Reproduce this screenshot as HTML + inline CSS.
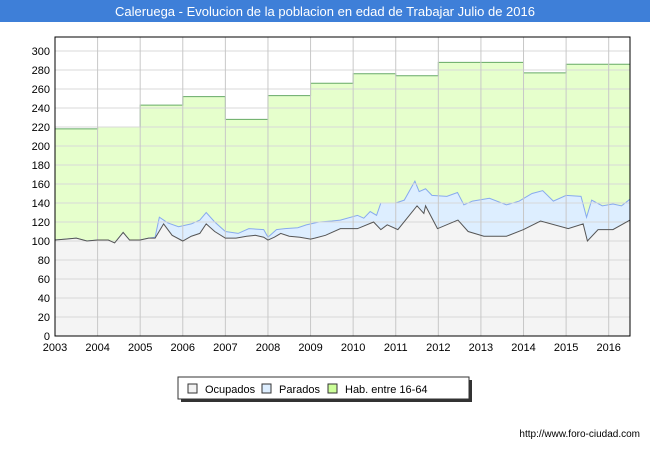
<!DOCTYPE html>
<html><head><meta charset="utf-8"><style>
body{margin:0;width:650px;height:450px;background:#fff;font-family:"Liberation Sans",sans-serif;overflow:hidden}
</style></head><body>
<svg width="650" height="450" xmlns="http://www.w3.org/2000/svg">
<rect x="0" y="0" width="650" height="22" fill="#3e7fd8"/>
<text x="325" y="16" text-anchor="middle" fill="#fff" font-size="13">Caleruega - Evolucion de la poblacion en edad de Trabajar Julio de 2016</text>
<g id="plot"></g>
<g>
<rect x="181" y="380" width="291" height="22" fill="#333"/>
<rect x="178" y="377" width="291" height="22" fill="#fff" stroke="#333"/>
<rect x="188" y="384" width="9" height="9" fill="#f2f2f2" stroke="#333"/>
<text x="205" y="393" font-size="11">Ocupados</text>
<rect x="262" y="384" width="9" height="9" fill="#ddeeff" stroke="#333"/>
<text x="279" y="393" font-size="11">Parados</text>
<rect x="328" y="384" width="9" height="9" fill="#ccff99" stroke="#333"/>
<text x="345" y="393" font-size="11">Hab. entre 16-64</text>
</g>
<text x="640" y="437" text-anchor="end" font-size="10">http://www.foro-ciudad.com</text>
</svg>
<script>
const yTicks=[0,20,40,60,80,100,120,140,160,180,200,220,240,260,280,300];
const xYears=[2003,2004,2005,2006,2007,2008,2009,2010,2011,2012,2013,2014,2015,2016];
const habYears=[2003,2004,2005,2006,2007,2008,2009,2010,2011,2012,2013,2014,2015];
const habValues=[218,220,243,252,228,253,266,276,274,288,288,277,286];
const ocDates=[2003,2003.25,2003.5,2003.75,2004,2004.25,2004.4,2004.6,2004.75,2005,2005.2,2005.35,2005.55,2005.75,2006,2006.2,2006.4,2006.55,2006.75,2007,2007.25,2007.5,2007.7,2007.9,2008,2008.15,2008.3,2008.5,2008.75,2009,2009.1,2009.35,2009.7,2010.1,2010.48,2010.65,2010.8,2011.05,2011.5,2011.66,2011.7,2011.98,2012.46,2012.7,2013.07,2013.6,2014,2014.4,2015.05,2015.4,2015.5,2015.75,2016.1,2016.5];
const ocValues=[101,102,103,100,101,101,98,109,101,101,103,103,118,106,100,105,108,118,110,103,103,105,106,104,101,104,108,105,104,102,103,106,113,113,120,112,117,112,137,129,137,113,122,110,105,105,112,121,113,118,100,112,112,122];
const actDates=[2003,2003.25,2003.5,2003.75,2004,2004.25,2004.4,2004.6,2004.75,2005,2005.2,2005.35,2005.45,2005.65,2005.9,2006.2,2006.4,2006.55,2006.75,2007,2007.3,2007.55,2007.9,2008,2008.2,2008.4,2008.7,2008.9,2009.2,2009.5,2009.7,2010.1,2010.25,2010.4,2010.55,2010.65,2011,2011.2,2011.45,2011.55,2011.7,2011.85,2012.2,2012.45,2012.6,2012.8,2013.2,2013.6,2013.9,2014.2,2014.45,2014.7,2015,2015.35,2015.48,2015.6,2015.85,2016.1,2016.3,2016.5];
const actValues=[101,102,103,100,101,101,98,109,101,101,103,104,125,119,115,118,122,130,120,110,108,113,112,104,112,113,114,117,120,121,122,127,124,131,127,140,140,143,163,152,155,148,147,151,138,142,145,138,142,150,153,142,148,147,125,143,137,139,137,144];
const L=55,R=630,T=37,B=336,X0=2003,X1=2016.5;
const sx=v=>L+(v-X0)/(X1-X0)*(R-L);
const sy=v=>B-v*0.95;
const NS="http://www.w3.org/2000/svg";
const g=document.getElementById('plot');
function mk(tag,attrs){const e=document.createElementNS(NS,tag);for(const k in attrs)e.setAttribute(k,attrs[k]);g.appendChild(e);return e;}
const bg=mk('rect',{x:L,y:T,width:R-L,height:B-T,fill:'#fff'});


// hab area
let hp=`M${sx(X0)},${B}`;
habYears.forEach((y,i)=>{const nx=i<habYears.length-1?habYears[i+1]:X1;hp+=` L${sx(y)},${sy(habValues[i])} L${sx(nx)},${sy(habValues[i])}`;});
hp+=` L${sx(X1)},${B} Z`;
const ha=mk('path',{d:hp,fill:'#e6ffcc',stroke:'#66aa66','stroke-width':1});


function pts(d,v){return d.map((x,i)=>`${sx(x)},${sy(v[i])}`).join(' L');}
const aa=mk('path',{d:`M${sx(actDates[0])},${B} L${pts(actDates,actValues)} L${sx(X1)},${B} Z`,fill:'#ddeeff'});


const al=mk('path',{d:`M${pts(actDates,actValues)}`,fill:'none',stroke:'#88aaee','stroke-width':1});


const oa=mk('path',{d:`M${sx(ocDates[0])},${B} L${pts(ocDates,ocValues)} L${sx(X1)},${B} Z`,fill:'#f4f4f4'});


// grid
yTicks.forEach(v=>{
 const l=mk('line',{x1:L,x2:R,y1:sy(v),y2:sy(v),stroke:'#d8d8d8','stroke-width':1});
 
 
 const t=mk('text',{x:L-5,y:sy(v)+4,'text-anchor':'end','font-size':11,fill:'#000'});
 t.textContent=v;
 
 
});
xYears.forEach(v=>{
 const l=mk('line',{x1:sx(v),x2:sx(v),y1:T,y2:B,stroke:'#c8c8c8','stroke-width':1});
 
 
 const t=mk('text',{x:sx(v),y:B+15,'text-anchor':'middle','font-size':11,fill:'#000'});
 t.textContent=v;
 
 
});
const ol=mk('path',{d:`M${pts(ocDates,ocValues)}`,fill:'none',stroke:'#555','stroke-width':1});


const fr=mk('rect',{x:L,y:T,width:R-L,height:B-T,fill:'none',stroke:'#000','stroke-width':1});


</script>
</body></html>
